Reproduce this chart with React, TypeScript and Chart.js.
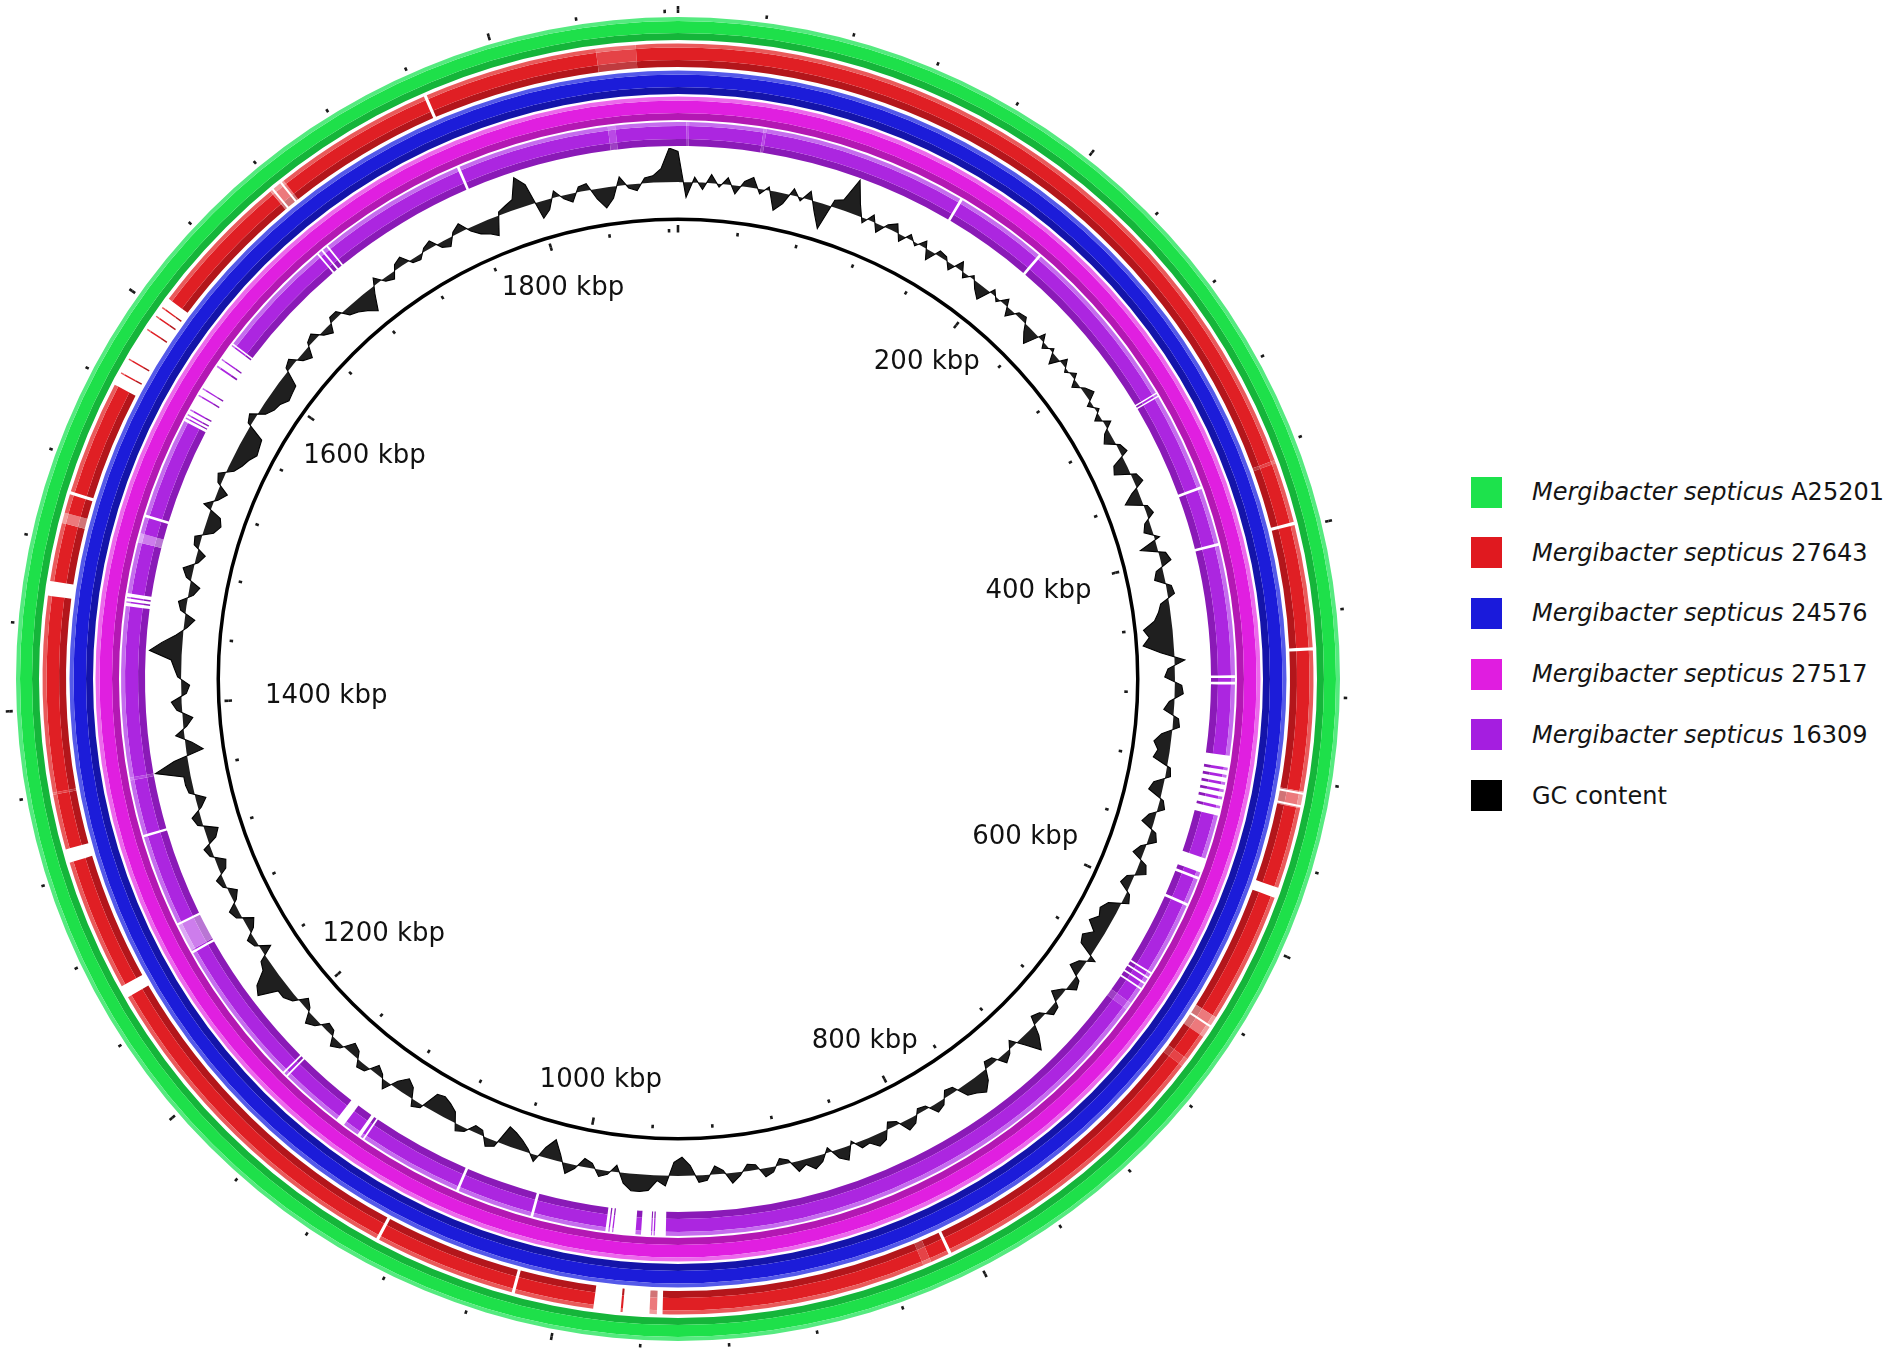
import React, { useEffect, useRef } from 'react';
import { Chart, registerables } from 'chart.js';

Chart.register(...registerables);

// ---------------- data ----------------
const GENOME_KBP = 1886;
const TICK_STEP_KBP = 40;
const MAJOR_TICK_KBP = 200;

const KBP_LABEL_POS = [200, 400, 600, 800, 1000, 1200, 1400, 1600, 1800];
const KBP_LABELS = ['200 kbp', '400 kbp', '600 kbp', '800 kbp', '1000 kbp', '1200 kbp', '1400 kbp', '1600 kbp', '1800 kbp'];

const LEGEND_SPECIES = ['Mergibacter septicus', 'Mergibacter septicus', 'Mergibacter septicus', 'Mergibacter septicus', 'Mergibacter septicus', ''];
const LEGEND_STRAINS = ['A25201', '27643', '24576', '27517', '16309', 'GC content'];
const LEGEND_COLORS = ['#1de24c', '#e0191f', '#1a1adb', '#e01de0', '#a51ee0', '#000000'];

type Kind = 'on' | 'gap' | 'faint' | 'tint' | 'off';
type Mark = [number, number, Kind];

// intervals in kbp; later entries override earlier ones
const GREEN_MARKS: Mark[] = [];
const RED_MARKS: Mark[] = [
  [1847, 1866, 'tint'],
  [1762.5, 1764, 'gap'],
  [1677, 1685, 'faint'],
  [1678, 1679, 'gap'],
  [1683, 1684, 'gap'],
  [1559, 1607, 'gap'],
  [1565, 1565.7, 'on'],
  [1572.5, 1573.2, 'on'],
  [1589, 1589.7, 'on'],
  [1596.5, 1597.2, 'on'],
  [1601.5, 1602.2, 'on'],
  [1503, 1504.5, 'gap'],
  [1489, 1494, 'faint'],
  [1454, 1461, 'gap'],
  [1359.5, 1360.5, 'tint'],
  [1326.5, 1333, 'gap'],
  [1257, 1263, 'gap'],
  [1090, 1091.5, 'gap'],
  [1021, 1022.5, 'gap'],
  [950.3, 983.2, 'gap'],
  [953, 956.5, 'faint'],
  [969.2, 970.2, 'on'],
  [820, 824, 'tint'],
  [809.5, 811, 'gap'],
  [664, 668, 'tint'],
  [640, 651, 'faint'],
  [644.5, 645.5, 'gap'],
  [572, 577, 'gap'],
  [525, 533, 'faint'],
  [525.5, 526.5, 'gap'],
  [531.5, 532.5, 'gap'],
  [456.5, 458, 'gap'],
  [396.5, 398, 'gap'],
  [366, 367.5, 'tint'],
];
const BLUE_MARKS: Mark[] = [];
const MAGENTA_MARKS: Mark[] = [];
const PURPLE_MARKS: Mark[] = [
  [1848, 1852, 'tint'],
  [1763.5, 1765, 'gap'],
  [1674.5, 1675.5, 'gap'],
  [1677.5, 1678.5, 'gap'],
  [1681, 1682, 'gap'],
  [1559, 1608.5, 'gap'],
  [1560.5, 1561.2, 'on'],
  [1562.5, 1563.3, 'on'],
  [1565.5, 1566.3, 'on'],
  [1574.5, 1575.3, 'on'],
  [1578.7, 1579.5, 'on'],
  [1593, 1594, 'on'],
  [1597.5, 1598.3, 'on'],
  [1606.8, 1607.6, 'on'],
  [1503, 1504.5, 'gap'],
  [1489, 1494, 'faint'],
  [1454, 1461, 'gap'],
  [1455.8, 1456.6, 'on'],
  [1458.2, 1459, 'on'],
  [1359.5, 1361, 'tint'],
  [1328, 1329.3, 'gap'],
  [1262, 1277, 'faint'],
  [1277, 1278.2, 'gap'],
  [1260, 1261.3, 'gap'],
  [1176, 1177, 'gap'],
  [1178.5, 1179.5, 'gap'],
  [1136, 1141, 'gap'],
  [1125, 1127, 'gap'],
  [1122.5, 1123.5, 'gap'],
  [1064.5, 1066, 'gap'],
  [1022, 1023.5, 'gap'],
  [949.6, 982.3, 'gap'],
  [955.5, 956.2, 'on'],
  [957, 957.6, 'on'],
  [963, 966, 'on'],
  [978, 978.7, 'on'],
  [980, 980.7, 'on'],
  [658, 662, 'tint'],
  [638, 639, 'gap'],
  [641, 642, 'gap'],
  [644.5, 645.5, 'gap'],
  [648, 649, 'gap'],
  [596, 597.5, 'gap'],
  [580.5, 582, 'gap'],
  [570, 578, 'gap'],
  [513, 546, 'gap'],
  [519.5, 521, 'on'],
  [523.5, 525, 'on'],
  [527.5, 529, 'on'],
  [531.5, 533, 'on'],
  [535.5, 537, 'on'],
  [540.5, 542, 'on'],
  [473, 474.5, 'gap'],
  [469.5, 471, 'gap'],
  [397.5, 399, 'gap'],
  [365.5, 367, 'gap'],
  [309.5, 310.3, 'gap'],
  [311.3, 312.1, 'gap'],
  [211.5, 213, 'gap'],
  [159.5, 161, 'gap'],
  [46.5, 48, 'tint'],
  [4.5, 6, 'tint'],
];

// GC content deviation in 5 kbp windows (0 = genome mean)
const GC_WINDOW_KBP = 5;
const GC_0_195 = [
  0.9, -0.45, 0.15, -0.2, 0.25, -0.1, 0.2, -0.25, 0.15, 0.3,
  -0.15, 0.1, -0.55, -0.3, 0.2, -0.1, 0.25, -0.3, -0.75, 0.2,
  0.3, 1.0, 0.35, -0.15, 0.2, -0.25, 0.1, 0.25, -0.2, 0.15,
  -0.1, 0.2, -0.3, 0.15, 0.1, -0.2, 0.25, -0.15, 0.1, -0.2,
];
const GC_200_395 = [
  -0.4, 0.15, -0.1, 0.2, -0.25, 0.1, 0.15, -0.2, -0.45, 0.2,
  -0.15, 0.1, -0.3, 0.2, -0.1, 0.15, -0.2, 0.1, 0.25, -0.15,
  0.1, -0.2, 0.2, -0.15, -0.3, 0.1, 0.2, -0.35, -0.45, 0.15,
  0.25, -0.2, -0.5, 0.1, 0.2, -0.15, -0.25, 0.15, -0.5, 0.2,
];
const GC_400_595 = [
  0.3, -0.2, -0.3, 0.15, 0.2, -0.25, -0.35, -0.5, -0.85, -0.7,
  -0.9, -0.4, 0.3, -0.2, -0.3, 0.2, 0.25, -0.15, -0.3, 0.15,
  0.2, -0.3, -0.5, -0.35, -0.45, 0.1, 0.15, -0.3, -0.4, 0.1,
  0.2, -0.2, -0.35, 0.15, 0.25, -0.15, -0.3, 0.2, 0.3, -0.2,
];
const GC_600_795 = [
  -0.3, 0.1, 0.2, -0.35, -0.5, -0.4, -0.6, -0.3, -0.55, -0.45,
  0.2, -0.2, -0.35, 0.15, 0.25, -0.1, -0.3, 0.15, 0.2, -0.15,
  -0.25, 0.3, 0.65, 0.2, -0.2, 0.1, 0.25, -0.15, -0.2, 0.3,
  0.55, 0.4, 0.3, -0.15, -0.2, 0.15, 0.25, -0.1, -0.15, 0.2,
];
const GC_800_995 = [
  0.3, -0.1, -0.2, 0.25, 0.35, 0.15, 0.2, -0.1, 0.4, 0.25,
  -0.15, 0.2, 0.35, 0.15, 0.3, -0.1, -0.2, 0.15, 0.25, -0.15,
  -0.2, 0.1, 0.3, -0.1, -0.25, 0.15, 0.2, -0.3, -0.55, -0.4,
  0.3, 0.15, 0.45, 0.5, 0.5, 0.3, -0.2, 0.1, 0.2, -0.15,
];
const GC_1000_1195 = [
  -0.25, 0.1, 0.3, -0.2, -0.6, -0.3, 0.2, -0.1, -0.3, -0.45,
  -0.55, 0.15, 0.25, -0.15, -0.2, 0.1, 0.2, -0.3, -0.45, -0.55,
  -0.5, 0.1, 0.2, -0.3, -0.45, -0.2, 0.25, -0.1, -0.25, 0.15,
  0.2, -0.2, -0.3, 0.1, 0.25, -0.15, -0.2, 0.15, 0.3, -0.1,
];
const GC_1200_1395 = [
  -0.25, 0.15, 0.3, 0.3, 0.85, 0.7, 0.3, 0.2, -0.3, 0.1,
  0.2, -0.15, -0.3, 0.15, 0.25, -0.1, -0.25, 0.1, 0.2, -0.2,
  -0.3, 0.1, 0.2, -0.25, -0.4, 0.15, 0.25, -0.1, -0.3, 0.15,
  0.2, 0.2, 1.0, 0.4, -0.5, -0.2, 0.25, -0.1, -0.3, 0.15,
];
const GC_1400_1595 = [
  0.3, -0.15, -0.25, 0.1, 0.2, 0.3, 0.95, 0.6, 0.2, -0.1,
  -0.3, 0.15, 0.25, -0.15, -0.3, 0.15, 0.3, -0.1, -0.25, 0.15,
  0.2, -0.3, -0.45, -0.35, 0.25, -0.1, -0.3, 0.1, 0.2, -0.2,
  -0.35, -0.45, -0.6, -0.55, -0.5, 0.1, 0.2, -0.2, -0.35, -0.4,
];
const GC_1600_1795 = [
  -0.55, -0.5, -0.45, 0.1, 0.2, -0.15, -0.3, 0.1, 0.2, -0.1,
  -0.25, 0.15, 0.15, -0.2, -0.3, -0.45, -0.65, -0.2, 0.2, -0.1,
  -0.2, 0.15, 0.25, -0.1, -0.15, 0.1, 0.2, -0.15, -0.25, 0.1,
  0.25, -0.1, -0.3, -0.4, -0.55, 0.1, 0.2, 0.3, 0.9, 0.6,
];
const GC_1800_1880 = [
  -0.5, -0.3, 0.2, -0.1, -0.25, 0.15, 0.2, -0.3, -0.6, -0.35,
  0.25, -0.1, -0.2, 0.15, 0.2, 0.4, 1.0,
];
const GC_VALUES = [
  ...GC_0_195, ...GC_200_395, ...GC_400_595, ...GC_600_795, ...GC_800_995,
  ...GC_1000_1195, ...GC_1200_1395, ...GC_1400_1595, ...GC_1600_1795, ...GC_1800_1880,
];

// ---------------- styles ----------------
const RING_MARKS = [GREEN_MARKS, RED_MARKS, BLUE_MARKS, MAGENTA_MARKS, PURPLE_MARKS];
const RING_STYLES = [
  { light: '#55ea7f', main: '#1ee04a', dark: '#15b53a' },
  { light: '#e95a5b', main: '#e01f24', dark: '#b3161b' },
  { light: '#5459e9', main: '#1c1cd9', dark: '#1414a9' },
  { light: '#ec69ec', main: '#e01fe0', dark: '#b318b3' },
  { light: '#c56cee', main: '#ac26e0', dark: '#8a1ab7' },
];
const RING_WIDTHS = [23, 23.5, 23.5, 23.5, 24];
const RING_SPACERS = [3.5, 3.5, 2.5, 2];
const OUTER_R = 673;
const CUTOUT_R = 446.5;
const LABEL_BASE_R = 411;
const LABEL_DIAG_R = 25;

function mix(hex: string, t: number) {
  const n = parseInt(hex.slice(1), 16);
  const r = (n >> 16) & 255, g = (n >> 8) & 255, b = n & 255;
  const m = (c: number) => Math.round(c + (255 - c) * t);
  return `rgb(${m(r)},${m(g)},${m(b)})`;
}

function buildSegments(marks: Mark[], total: number, base: Kind) {
  const pts = new Set<number>([0, total]);
  marks.forEach(([s, e]) => { pts.add(Math.max(0, s)); pts.add(Math.min(total, e)); });
  const sorted = Array.from(pts).sort((a, b) => a - b);
  const segs: { len: number; kind: Kind }[] = [];
  for (let i = 0; i < sorted.length - 1; i++) {
    const a = sorted[i], b = sorted[i + 1];
    if (b - a <= 1e-9) continue;
    const mid = (a + b) / 2;
    let kind: Kind = base;
    for (const [s, e, k] of marks) if (mid >= s && mid < e) kind = k;
    const last = segs[segs.length - 1];
    if (last && last.kind === kind) last.len += b - a;
    else segs.push({ len: b - a, kind });
  }
  return segs;
}

function tickMarks(step: number, radius: number, widthPx: number): Mark[] {
  const half = (widthPx / (2 * Math.PI * radius)) * GENOME_KBP / 2;
  const marks: Mark[] = [];
  for (let p = 0; p < GENOME_KBP; p += step) {
    if (p - half < 0) {
      marks.push([0, p + half, 'on']);
      marks.push([GENOME_KBP + p - half, GENOME_KBP, 'on']);
    } else marks.push([p - half, p + half, 'on']);
  }
  return marks;
}

const CLEAR = 'rgba(255,255,255,0)';

function spacer(w: number) {
  return { data: [1], backgroundColor: [CLEAR], weight: w, borderWidth: 0, hoverOffset: 0 };
}

function tickDataset(step: number, radius: number, w: number) {
  const segs = buildSegments(tickMarks(step, radius, 2.6), GENOME_KBP, 'off');
  return {
    data: segs.map((s) => s.len),
    backgroundColor: segs.map((s) => (s.kind === 'on' ? '#1a1a1a' : CLEAR)),
    weight: w, borderWidth: 0, hoverOffset: 0,
  };
}

function shadeFor(kind: Kind, col: string) {
  if (kind === 'gap' || kind === 'off') return CLEAR;
  if (kind === 'faint') return mix(col, 0.4);
  if (kind === 'tint') return mix(col, 0.16);
  return col;
}

function buildRingDatasets() {
  const ds: any[] = [];
  ds.push(tickDataset(MAJOR_TICK_KBP, 671, 3.5));
  ds.push(tickDataset(TICK_STEP_KBP, 668, 3.5));
  ds.push(spacer(4));
  RING_MARKS.forEach((marks, idx) => {
    const segs = buildSegments(marks, GENOME_KBP, 'on');
    const st = RING_STYLES[idx];
    const shades = [st.light, st.main, st.dark];
    const weights = [4, RING_WIDTHS[idx] - 11, 7];
    shades.forEach((col, j) => {
      ds.push({
        data: segs.map((s) => s.len),
        backgroundColor: segs.map((s) => shadeFor(s.kind, col)),
        weight: weights[j], borderWidth: 0, hoverOffset: 0,
      });
    });
    if (idx < RING_SPACERS.length) ds.push(spacer(RING_SPACERS[idx]));
  });
  ds.push(spacer(71.5));
  ds.push({ data: [GENOME_KBP], backgroundColor: ['#000000'], weight: 3.5, borderWidth: 0, hoverOffset: 0 });
  ds.push(spacer(4));
  ds.push(tickDataset(MAJOR_TICK_KBP, 452, 4));
  ds.push(tickDataset(TICK_STEP_KBP, 448, 3.5));
  return ds;
}

const kbpLabelPlugin = {
  id: 'kbpLabels',
  afterDraw(chart: any) {
    const { ctx, chartArea } = chart;
    const cx = (chartArea.left + chartArea.right) / 2;
    const cy = (chartArea.top + chartArea.bottom) / 2;
    ctx.save();
    ctx.font = '26px "DejaVu Sans"';
    ctx.fillStyle = '#111111';
    ctx.textAlign = 'center';
    ctx.textBaseline = 'middle';
    KBP_LABEL_POS.forEach((kbp, i) => {
      const th = (kbp / GENOME_KBP) * 2 * Math.PI;
      const w = ctx.measureText(KBP_LABELS[i]).width;
      const d = LABEL_BASE_R + LABEL_DIAG_R * Math.abs(Math.sin(2 * th)) - (w / 2) * Math.abs(Math.sin(th));
      ctx.fillText(KBP_LABELS[i], cx + d * Math.sin(th), cy - d * Math.cos(th));
    });
    ctx.restore();
  },
};

export default function App() {
  const ringRef = useRef<HTMLCanvasElement>(null);
  const gcRef = useRef<HTMLCanvasElement>(null);

  useEffect(() => {
    const ringChart = new Chart(ringRef.current as HTMLCanvasElement, {
      type: 'doughnut',
      data: { labels: [], datasets: buildRingDatasets() },
      options: {
        responsive: false,
        animation: false,
        events: [],
        cutout: CUTOUT_R,
        plugins: { legend: { display: false }, tooltip: { enabled: false } },
      } as any,
      plugins: [kbpLabelPlugin],
    });

    const gcChart = new Chart(gcRef.current as HTMLCanvasElement, {
      type: 'radar',
      data: {
        labels: GC_VALUES.map((_, i) => `${i * GC_WINDOW_KBP}`),
        datasets: [{
          data: GC_VALUES,
          borderColor: '#000000',
          borderWidth: 1.1,
          backgroundColor: 'rgba(0,0,0,0.88)',
          fill: { value: 0 },
          pointRadius: 0,
          pointHoverRadius: 0,
          tension: 0,
        }],
      },
      options: {
        responsive: false,
        animation: false,
        events: [],
        plugins: { legend: { display: false }, tooltip: { enabled: false } },
        scales: {
          r: {
            min: -14.6,
            max: 1,
            ticks: { display: false },
            grid: { display: false, circular: true },
            angleLines: { display: false },
            pointLabels: { display: false },
          },
        },
      } as any,
    });

    return () => { ringChart.destroy(); gcChart.destroy(); };
  }, []);

  const size = OUTER_R * 2;
  return (
    <div style={{ position: 'absolute', left: 0, top: 0, width: 1890, height: 1354, background: '#ffffff', overflow: 'hidden' }}>
      <canvas ref={ringRef} width={size} height={size}
        style={{ position: 'absolute', left: 678 - OUTER_R, top: 679 - OUTER_R, width: size, height: size }} />
      <canvas ref={gcRef} width={1062} height={1062}
        style={{ position: 'absolute', left: 147, top: 148, width: 1062, height: 1062 }} />
      {LEGEND_STRAINS.map((strain, i) => (
        <div key={i} style={{
          position: 'absolute', left: 1471, top: 476.5 + i * 60.7, height: 31,
          display: 'flex', alignItems: 'center', whiteSpace: 'nowrap',
          fontFamily: '"DejaVu Sans", sans-serif', fontSize: 24, color: '#141414',
        }}>
          <div style={{ width: 31, height: 31, background: LEGEND_COLORS[i], marginRight: 30, flex: 'none' }} />
          <span>
            {LEGEND_SPECIES[i] ? <i>{LEGEND_SPECIES[i]}</i> : null}
            {LEGEND_SPECIES[i] ? ' ' : ''}{strain}
          </span>
        </div>
      ))}
    </div>
  );
}
